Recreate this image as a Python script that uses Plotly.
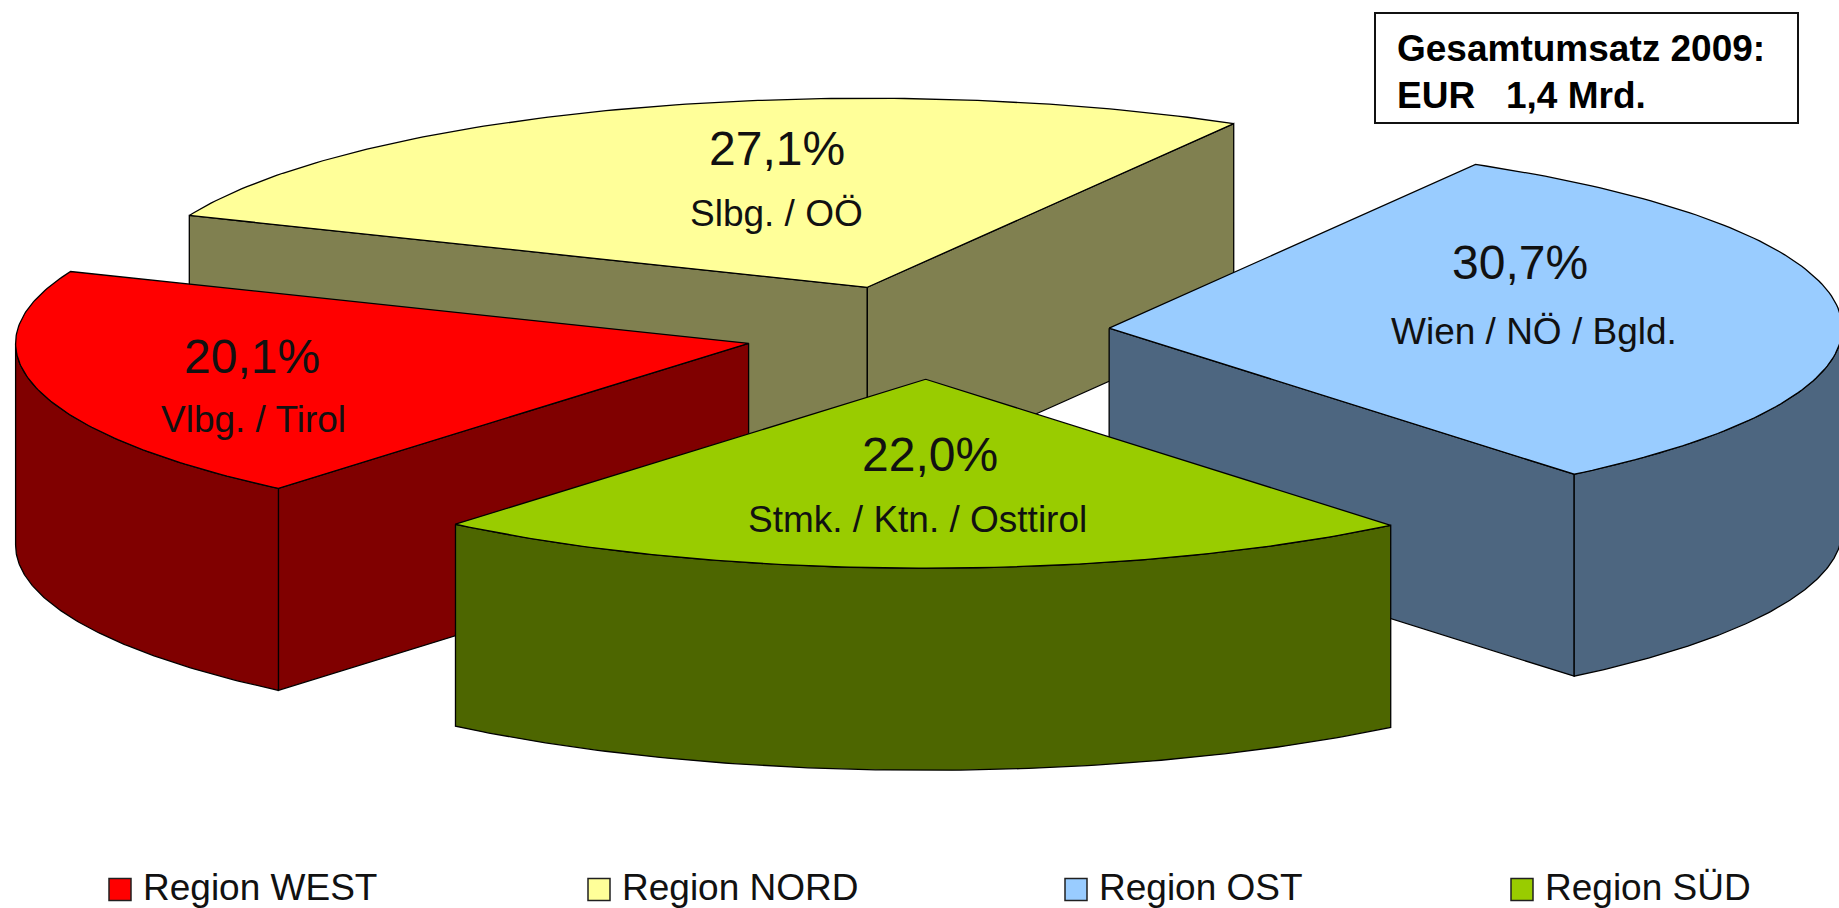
import numpy as np
import plotly.graph_objects as go

# ---- data ----
regions = ["Region WEST", "Region NORD", "Region OST", "Region SÜD"]
shares = [20.1, 27.1, 30.7, 22.0]
share_labels = ["20,1%", "27,1%", "30,7%", "22,0%"]
areas = ["Vlbg. / Tirol", "Slbg. / OÖ", "Wien / NÖ / Bgld.", "Stmk. / Ktn. / Osttirol"]
top_colors = ["#FF0000", "#FFFF99", "#99CCFF", "#99CC00"]
wall_colors = ["#800000", "#808050", "#4D6680", "#4D6600"]
box_lines = ["Gesamtumsatz 2009:", "EUR   1,4 Mrd."]

# ---- layout constants (page pixels) ----
W, H = 1839, 908
CX, CY = 926.5, 332
RX, RY = 733, 189
DEPTH = 202
EXPLODE = 0.25
START = 230.1
LINE = "#000000"
FONT = "Liberation Sans, Arial, sans-serif"
label_pos = [((252, 356), (253, 419)), ((777, 148), (776, 213)),
             ((1520, 262), (1534, 331)), ((930, 454), (917, 519))]
legend_x = [120, 599, 1076, 1522]
legend_y = 889.5


def arc(cx, cy, a0, a1, n=120):
    t = np.radians(np.linspace(a0, a1, n))
    return cx + RX * np.cos(t), cy - RY * np.sin(t)


fig = go.Figure()


def poly(x, y, color):
    fig.add_trace(go.Scatter(x=list(x), y=list(y), mode="lines", fill="toself",
                             fillcolor=color, line=dict(color=LINE, width=1.3),
                             hoverinfo="skip", showlegend=False))


bounds = START - np.cumsum([0] + [s / sum(shares) * 360 for s in shares])
slices = []
for i, s in enumerate(shares):
    a0, a1 = bounds[i], bounds[i + 1]
    mid = np.radians((a0 + a1) / 2)
    cx = CX + EXPLODE * RX * np.cos(mid)
    cy = CY - EXPLODE * RY * np.sin(mid)
    slices.append((i, a0, a1, cx, cy))

# painter's order: back slice first, front slice last
for i, a0, a1, cx, cy in [slices[k] for k in (1, 2, 0, 3)]:
    # radial side walls that face the viewer
    for ang, visible in ((a0, np.cos(np.radians(a0)) < 0), (a1, np.cos(np.radians(a1)) > 0)):
        if visible:
            ex, ey = arc(cx, cy, ang, ang, 1)
            poly([cx, ex[0], ex[0], cx, cx], [cy, ey[0], ey[0] + DEPTH, cy + DEPTH, cy], wall_colors[i])
    # outer rim: only the part of the arc on the front half of the ellipse
    lo, hi = min(a0, a1), max(a0, a1)
    rims = []
    for k in (-360, 0):
        l2, h2 = max(lo, 180 + k), min(hi, 360 + k)
        if l2 < h2:
            rims.append((l2, h2))
    for l2, h2 in rims:
        rx, ry = arc(cx, cy, l2, h2)
        poly(np.r_[rx, rx[::-1], rx[0]], np.r_[ry, ry[::-1] + DEPTH, ry[0]], wall_colors[i])
    # top face
    tx, ty = arc(cx, cy, a0, a1)
    poly(np.r_[cx, tx, cx], np.r_[cy, ty, cy], top_colors[i])

# legend swatches
fig.add_trace(go.Scatter(x=legend_x, y=[legend_y] * 4, mode="markers", hoverinfo="skip", showlegend=False,
                         marker=dict(symbol="square", size=22, color=top_colors,
                                     line=dict(color="#202020", width=1.5))))

ann = []
for i in range(4):
    (px, py), (qx, qy) = label_pos[i]
    ann.append(dict(x=px, y=py, text=share_labels[i], showarrow=False, font=dict(size=48, color="#111")))
    ann.append(dict(x=qx, y=qy, text=areas[i], showarrow=False, font=dict(size=37, color="#111")))
    ann.append(dict(x=legend_x[i] + 21, y=legend_y - 2, text=regions[i], showarrow=False, xanchor="left",
                    font=dict(size=37, color="#111")))
ann.append(dict(x=1395, y=48, text=box_lines[0], showarrow=False, xanchor="left",
                font=dict(size=37, color="#000", family=FONT, weight="bold")))
ann.append(dict(x=1395, y=95, text=box_lines[1].replace(" ", "\u00a0"), showarrow=False, xanchor="left",
                font=dict(size=37, color="#000", family=FONT, weight="bold")))

fig.update_layout(
    width=W, height=H, autosize=False,
    margin=dict(l=0, r=0, t=0, b=0), paper_bgcolor="white", plot_bgcolor="white",
    font=dict(family=FONT), showlegend=False, annotations=ann,
    xaxis=dict(range=[0, W], visible=False, fixedrange=True),
    yaxis=dict(range=[H, 0], visible=False, fixedrange=True),
    shapes=[dict(type="rect", x0=1375, x1=1798, y0=13, y1=123, line=dict(color="#111", width=2),
                 fillcolor="rgba(0,0,0,0)", layer="above")],
)
fig.write_html("out.html", config={"displayModeBar": False},
               default_width=W, default_height=H,
               post_script="document.body.style.margin='0';document.documentElement.style.overflow='hidden';")
